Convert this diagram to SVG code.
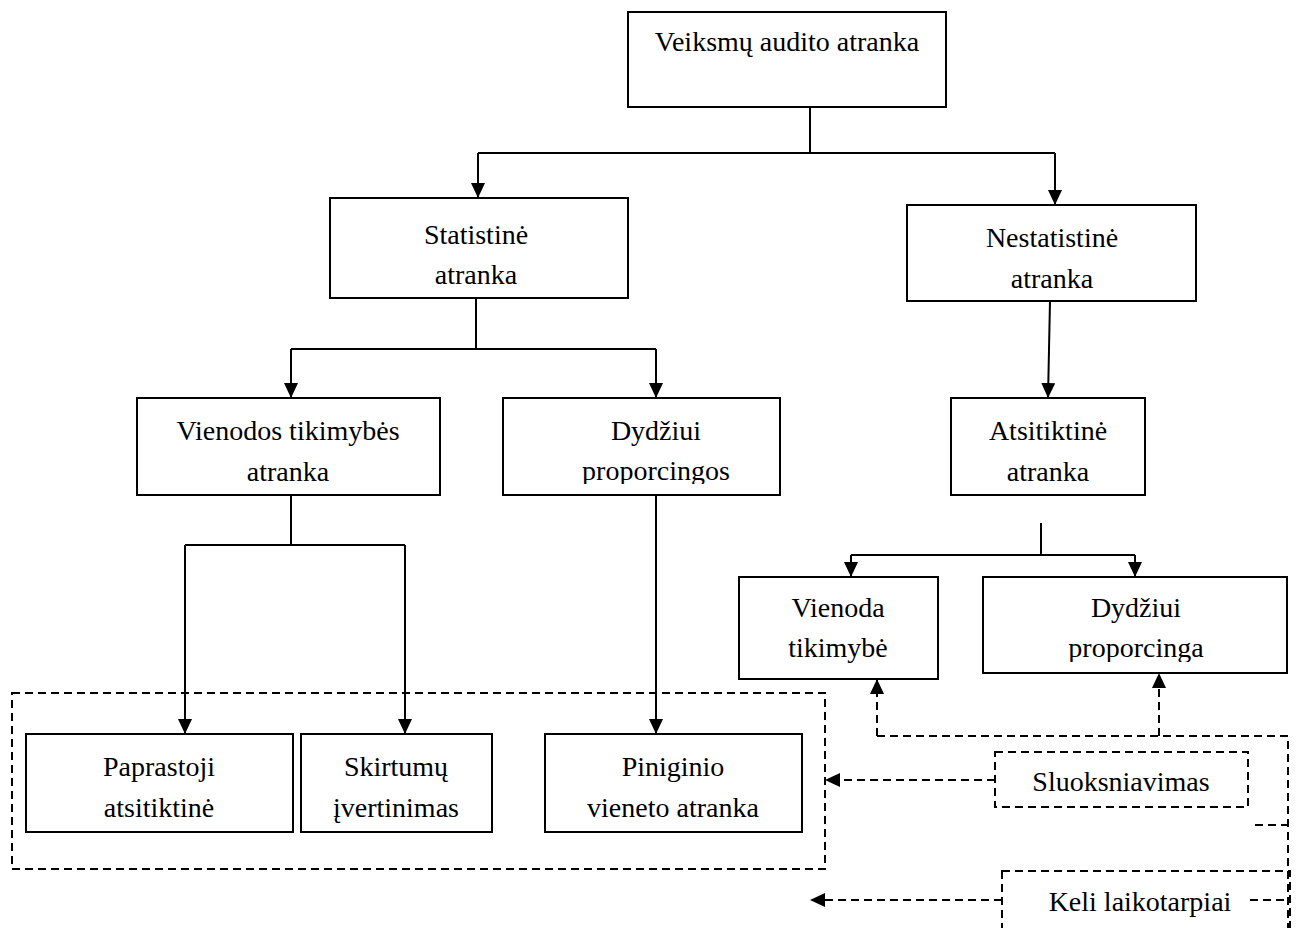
<svg xmlns="http://www.w3.org/2000/svg" width="1298" height="928" viewBox="0 0 1298 928">
<style>
.box{fill:#fff;stroke:#000;stroke-width:2}
.dbox{fill:none;stroke:#000;stroke-width:2;stroke-dasharray:8,5}
.ln{fill:none;stroke:#000;stroke-width:2}
.dl{fill:none;stroke:#000;stroke-width:2;stroke-dasharray:8,5}
text{font-size:28px;fill:#000;text-anchor:middle}
</style>
<defs>
<marker id="ah" markerWidth="18" markerHeight="16" refX="15" refY="7" orient="auto" markerUnits="userSpaceOnUse">
<path d="M0,0 L15,7 L0,14 Z" fill="#000"/>
</marker>
<clipPath id="clipA"><rect x="503" y="398" width="277" height="86"/></clipPath>
<clipPath id="clipB"><rect x="983" y="577" width="304" height="85"/></clipPath>
</defs>
<g id="connectors">
<path class="ln" d="M810,107 V153 M478,153 H1055"/>
<path class="ln" d="M478,153 V198" marker-end="url(#ah)"/>
<path class="ln" d="M1055,153 V205" marker-end="url(#ah)"/>
<path class="ln" d="M476,298 V349 M291,349 H656"/>
<path class="ln" d="M291,349 V398" marker-end="url(#ah)"/>
<path class="ln" d="M656,349 V398" marker-end="url(#ah)"/>
<path class="ln" d="M1050,301 L1048,398" marker-end="url(#ah)"/>
<path class="ln" d="M1041,523 V555 M851,555 H1135"/>
<path class="ln" d="M851,555 V577" marker-end="url(#ah)"/>
<path class="ln" d="M1135,555 V577" marker-end="url(#ah)"/>
<path class="ln" d="M291,495 V545 M185,545 H405"/>
<path class="ln" d="M185,545 V734" marker-end="url(#ah)"/>
<path class="ln" d="M405,545 V734" marker-end="url(#ah)"/>
<path class="ln" d="M656,495 V734" marker-end="url(#ah)"/>
<path class="dl" d="M877,736 V679" marker-end="url(#ah)"/>
<path class="dl" d="M1159,736 V673" marker-end="url(#ah)"/>
<path class="dl" d="M877,736 H1288 V928"/>
<path class="dl" d="M1255,825 H1288"/>
<path class="dl" d="M995,780 H825" marker-end="url(#ah)"/>
<path class="dl" d="M1002,900 H810" marker-end="url(#ah)"/>
<path class="dl" d="M1250,900 H1290"/>
</g>
<g id="group-frame"><rect class="dbox" x="12" y="693" width="813" height="176"/></g>
<g font-family="'Liberation Serif', Tinos, 'Times New Roman', 'DejaVu Serif', serif">
<g id="n-veiksmu"><rect class="box" x="628" y="12" width="318" height="95"/><text x="787" y="51">Veiksmų audito atranka</text></g>
<g id="n-statistine"><rect class="box" x="330" y="198" width="298" height="100"/><text x="476" y="244">Statistinė</text><text x="476" y="284">atranka</text></g>
<g id="n-nestatistine"><rect class="box" x="907" y="205" width="289" height="96"/><text x="1052" y="247">Nestatistinė</text><text x="1052" y="288">atranka</text></g>
<g id="n-vienodos"><rect class="box" x="137" y="398" width="303" height="97"/><text x="288" y="440">Vienodos tikimybės</text><text x="288" y="481">atranka</text></g>
<g id="n-dydziui-prop"><rect class="box" x="503" y="398" width="277" height="97"/><text x="656" y="440">Dydžiui</text><text x="656" y="480" clip-path="url(#clipA)">proporcingos</text></g>
<g id="n-atsitiktine"><rect class="box" x="951" y="398" width="194" height="97"/><text x="1048" y="440">Atsitiktinė</text><text x="1048" y="481">atranka</text></g>
<g id="n-vienoda"><rect class="box" x="739" y="577" width="199" height="102"/><text x="838" y="617">Vienoda</text><text x="838" y="657">tikimybė</text></g>
<g id="n-dydziui-proporcinga"><rect class="box" x="983" y="577" width="304" height="96"/><text x="1136" y="617">Dydžiui</text><text x="1136" y="657" clip-path="url(#clipB)">proporcinga</text></g>
<g id="n-paprastoji"><rect class="box" x="26" y="734" width="267" height="98"/><text x="159" y="776">Paprastoji</text><text x="159" y="817">atsitiktinė</text></g>
<g id="n-skirtumu"><rect class="box" x="301" y="734" width="191" height="98"/><text x="396" y="776">Skirtumų</text><text x="396" y="817">įvertinimas</text></g>
<g id="n-piniginio"><rect class="box" x="545" y="734" width="257" height="98"/><text x="673" y="776">Piniginio</text><text x="673" y="817">vieneto atranka</text></g>
<g id="n-sluoksniavimas"><rect class="dbox" x="995" y="752" width="253" height="55"/><text x="1121" y="791">Sluoksniavimas</text></g>
<g id="n-keli"><rect class="dbox" x="1002" y="871" width="288" height="80"/><text x="1140" y="911">Keli laikotarpiai</text></g>
</g>
</svg>
